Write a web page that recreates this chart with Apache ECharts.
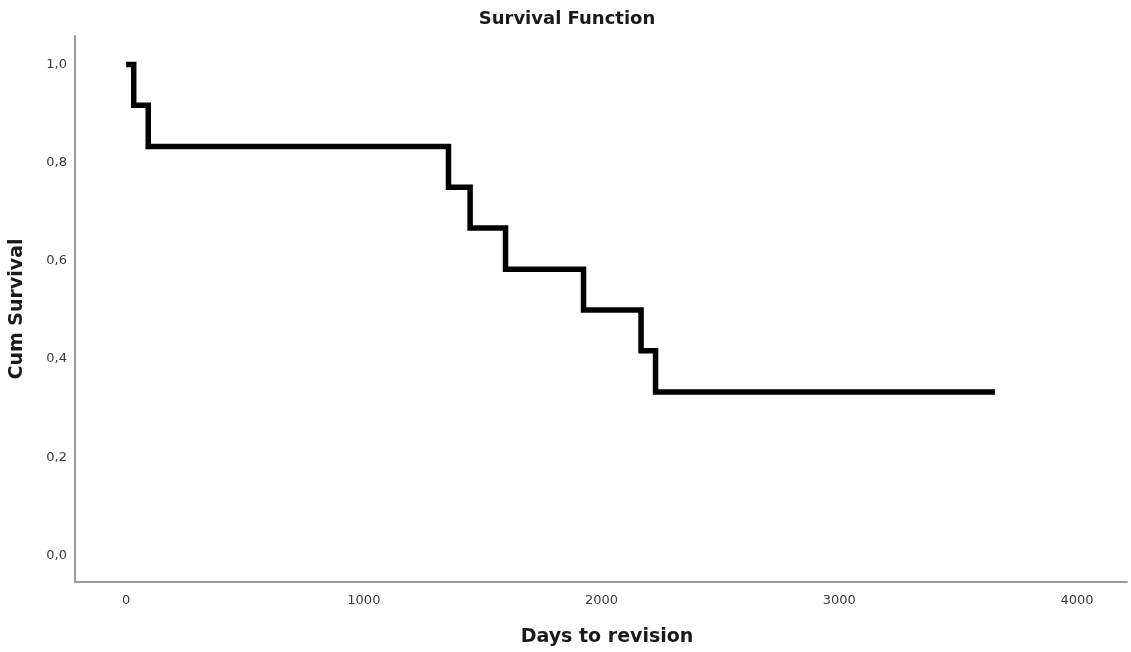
<!DOCTYPE html>
<html>
<head>
<meta charset="utf-8">
<script src="https://cdn.jsdelivr.net/npm/echarts@6/dist/echarts.min.js"></script>
<style>
html,body{margin:0;padding:0;background:#fff;}
#chart{width:1131px;height:652px;}
</style>
</head>
<body>
<div id="chart"></div>
<script>
// Kaplan-Meier estimate
var days = [0, 32, 93, 1356, 1447, 1596, 1924, 2166, 2227, 3655];
var cumSurvival = [1.0, 0.917, 0.833, 0.75, 0.667, 0.583, 0.5, 0.417, 0.333, 0.333];
var xTicks = [0, 1000, 2000, 3000, 4000];
var yTicks = [0, 0.2, 0.4, 0.6, 0.8, 1.0];

var FONT = 'DejaVu Sans';
var chart = echarts.init(document.getElementById('chart'), null, {renderer: 'canvas'});
var points = days.map(function (d, i) { return [d, cumSurvival[i]]; });

chart.setOption({
  backgroundColor: '#ffffff',
  animation: false,
  title: {
    text: 'Survival Function',
    left: 562, top: 5,
    textAlign: 'center',
    textStyle: {fontFamily: FONT, fontWeight: 'bold', fontSize: 18, color: '#1a1a1a'}
  },
  grid: {left: 73, top: 36, right: 4, bottom: 70, containLabel: false},
  xAxis: {
    type: 'value',
    min: -215, max: 4210,
    name: 'Days to revision',
    nameLocation: 'middle',
    nameGap: 46,
    nameTextStyle: {fontFamily: FONT, fontWeight: 'bold', fontSize: 19, color: '#1a1a1a', padding: [0, 0, 0, 12]},
    axisLine: {show: true, onZero: false, lineStyle: {color: '#9a9a9a', width: 2}},
    axisTick: {show: false},
    splitLine: {show: false},
    axisLabel: {
      customValues: xTicks,
      margin: 12,
      fontFamily: FONT, fontSize: 13, color: '#3a3a3a',
      formatter: function (v) { return String(v); }
    }
  },
  yAxis: {
    type: 'value',
    min: -0.054, max: 1.058,
    name: 'Cum Survival',
    nameLocation: 'middle',
    nameGap: 48,
    nameTextStyle: {fontFamily: FONT, fontWeight: 'bold', fontSize: 19, color: '#1a1a1a'},
    axisLine: {show: true, onZero: false, lineStyle: {color: '#9a9a9a', width: 2}},
    axisTick: {show: false},
    splitLine: {show: false},
    axisLabel: {
      customValues: yTicks,
      margin: 8,
      fontFamily: FONT, fontSize: 13, color: '#3a3a3a',
      formatter: function (v) { return v.toFixed(1).replace('.', ','); }
    }
  },
  series: [{
    type: 'line',
    step: 'end',
    data: points,
    symbol: 'none',
    lineStyle: {color: '#000000', width: 5.5, cap: 'butt', join: 'miter'},
    silent: true
  }]
});
</script>
</body>
</html>
